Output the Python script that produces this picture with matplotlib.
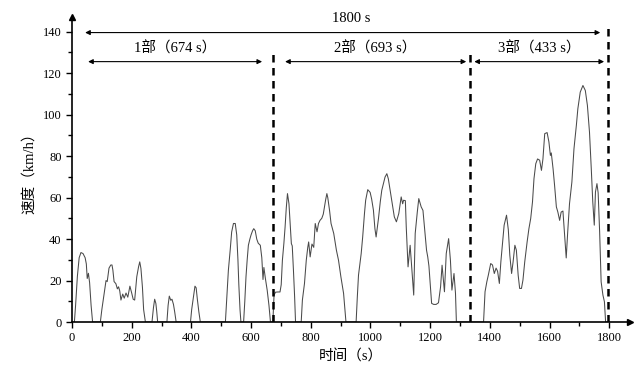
import matplotlib
matplotlib.use("Agg")
import matplotlib.pyplot as plt

plt.rcParams['font.family'] = ['Liberation Serif', 'Noto Sans CJK SC', 'DejaVu Sans']

# speed trace (time s, speed km/h)
time_s = [0, 8, 12, 18, 24, 30, 37, 44, 48, 51, 55, 59, 64, 69,
          95, 100, 107, 114, 118, 124, 130, 134, 137, 141, 147, 152, 156, 160, 164, 170, 175, 181, 187,
          194, 200, 205, 210, 217, 223, 227, 231, 236, 240, 246,
          268, 273, 277, 281, 284, 287,
          318, 322, 326, 331, 335, 340, 344, 349,
          397, 401, 406, 412, 416, 420, 425, 430,
          514, 518, 521, 524, 530, 535, 541, 547, 552, 556, 559, 563, 566,
          575, 579, 583, 587, 591, 596, 600, 605, 609, 614, 619, 624, 631, 636, 640, 643, 648, 654, 660, 665,
          673, 677, 682, 690, 697,
          701, 705, 710, 714, 718, 722, 727, 731, 735, 738, 742, 746, 749,
          768, 772, 779, 785, 790, 793, 798, 804, 810, 815, 821, 826, 831, 837, 842, 846, 850, 854, 857,
          860, 863, 868, 877, 886, 893, 901, 910, 918,
          952, 956, 960, 969, 974, 980, 984, 991, 999, 1004, 1010, 1015, 1019, 1027, 1033, 1038, 1044,
          1049, 1055, 1060, 1066, 1073, 1080, 1087, 1095, 1103, 1108, 1111, 1117, 1120, 1126, 1133, 1139,
          1145, 1150, 1157, 1162, 1170, 1176, 1181, 1188, 1192, 1196, 1201, 1205, 1212, 1220, 1228, 1235,
          1240, 1248, 1254, 1262, 1268, 1273, 1280, 1285, 1288,
          1379, 1384, 1390, 1395, 1403, 1409, 1415, 1421, 1426, 1432, 1437, 1442, 1448, 1456, 1462, 1467,
          1473, 1478, 1484, 1489, 1495, 1500, 1506, 1511, 1517, 1525, 1531, 1537, 1543, 1548, 1554, 1560,
          1567, 1573, 1578, 1584, 1592, 1598, 1603, 1606, 1612, 1617, 1623, 1628, 1634, 1639, 1645, 1650,
          1656, 1661, 1667, 1675, 1682, 1690, 1695, 1703, 1712, 1720, 1727, 1734, 1740, 1745, 1750, 1754,
          1759, 1763, 1768, 1773, 1779, 1784, 1788, 1800]
speed_kmh = [0, 0, 8, 22, 31, 33.5, 33, 31, 28, 21, 23.5, 19, 8, 0,
             0, 6, 13, 20, 19.5, 26, 27.5, 27.5, 25, 19.5, 18.5, 16, 17, 15, 10.6, 13.5, 11.5, 14, 12,
             17.3, 14, 11, 10.6, 21.8, 26.6, 29, 25.8, 16.8, 6, 0,
             0, 7, 11, 9, 5, 0,
             0, 8, 12.5, 10.5, 11, 8.5, 5, 0,
             0, 6, 11, 17.3, 16.5, 11, 5, 0,
             0, 10, 18, 25, 34.6, 43.4, 47.5, 47.5, 42, 30, 18, 6, 0,
             0, 10, 21.8, 30, 37, 40, 42, 44, 45, 44, 40, 38, 37, 31, 20.5, 26.3, 21, 15.4, 8, 0,
             0, 13, 14.4, 14.5, 14.5,
             18, 29.8, 38, 45.8, 55, 61.9, 57, 47, 37.8, 36.7, 25, 12, 0,
             0, 10.6, 18.6, 29.8, 36, 38.6, 31.4, 37.6, 36, 47.5, 43.5, 47.5, 49, 50, 52, 55.5, 59, 61.9, 60,
             57, 53.8, 47.5, 42.7, 34.6, 29.8, 21.8, 13.8, 0,
             0, 12, 22.6, 33, 41, 52.3, 58.7, 63.8, 62.5, 59.3, 53.9, 45, 41, 50, 58, 63.5, 67,
             69.9, 71.5, 69, 63.5, 57, 50.7, 48.3, 52.3, 60.3, 57, 58.7, 58.5, 45.8, 26.6, 37, 25,
             13, 42.7, 53, 59.5, 55.5, 53.8, 45.8, 34.6, 31.4, 27, 17, 9, 8.5, 8.5, 9.3, 17,
             27.4, 14.6, 33, 40.2, 29.8, 15.4, 23.4, 13.8, 0,
             0, 14.6, 19.4, 22.6, 28.2, 27.5, 23.4, 26, 24.5, 18.6, 29, 37, 46.7, 51.5, 44.5, 32.2,
             23.4, 29, 37, 34.6, 22.6, 16.2, 16.2, 20.2, 29, 38.6, 45, 49.9, 57.9, 69.1, 76.3, 78.6,
             78, 73.1, 78.6, 90.8, 91.3, 86.8, 80.3, 81.5, 73.8, 65.9, 55.5, 53, 49, 53, 53.5, 43.4,
             30.9, 43.4, 57, 67.5, 83.5, 94.8, 102.8, 110.8, 114, 111.6, 104.4, 91.5, 73.8, 57.9, 46.7, 62.7,
             66.7, 62.3, 43.4, 19.4, 13, 9.8, 0, 0]

# phase boundaries as drawn (x, top of dashed line)
boundary_x = [673, 1335, 1797]
boundary_top = [131, 131, 144]

# phase labels: text, arrow start, arrow end
part_labels = ['1部（674 s）', '2部（693 s）', '3部（433 s）']
part_start = [54, 714, 1348]
part_end = [637, 1321, 1783]

fig = plt.figure(figsize=(6.4, 3.78), dpi=100)
ax = fig.add_axes([0.1125, 0.148, 0.872, 0.807])

ax.plot(time_s, speed_kmh, color='#4a4a4a', lw=0.75)

for bx, top in zip(boundary_x, boundary_top):
    ax.plot([bx, bx], [0, top], color='black', lw=1.8, linestyle=(0, (3, 2.2)))

arrow = dict(arrowstyle='<|-|>', color='black', lw=0.8, mutation_scale=7, shrinkA=0, shrinkB=0)
ax.annotate('', xy=(44, 139.5), xytext=(1770, 139.5), arrowprops=arrow)
ax.text(935, 143, '1800 s', ha='center', va='bottom', fontsize=10.5)
for lab, s, e in zip(part_labels, part_start, part_end):
    ax.annotate('', xy=(s, 125.5), xytext=(e, 125.5), arrowprops=arrow)
    ax.text((s + e) / 2, 128.5, lab, ha='center', va='bottom', fontsize=10.5)

ax.set_xlim(0, 1870)
ax.set_ylim(0, 147)
ax.set_xticks(range(0, 1801, 200))
ax.set_xticks(range(100, 1801, 200), minor=True)
ax.set_yticks(range(0, 141, 20))
ax.set_yticks(range(10, 141, 20), minor=True)
ax.tick_params(which='both', direction='out', labelsize=9, width=1)
ax.tick_params(which='major', length=4)
ax.tick_params(which='minor', length=3)

for side in ['top', 'right']:
    ax.spines[side].set_visible(False)
for side in ['left', 'bottom']:
    ax.spines[side].set_linewidth(1.2)
ax.plot(1, 0, '>k', transform=ax.transAxes, clip_on=False, markersize=5)
ax.plot(0, 1, '^k', transform=ax.transAxes, clip_on=False, markersize=5)

ax.set_xlabel('时间（s）', fontsize=10.5, labelpad=4)
ax.set_ylabel('速度（km/h）', fontsize=10.5, labelpad=5)

fig.savefig('out.png', dpi=100)
